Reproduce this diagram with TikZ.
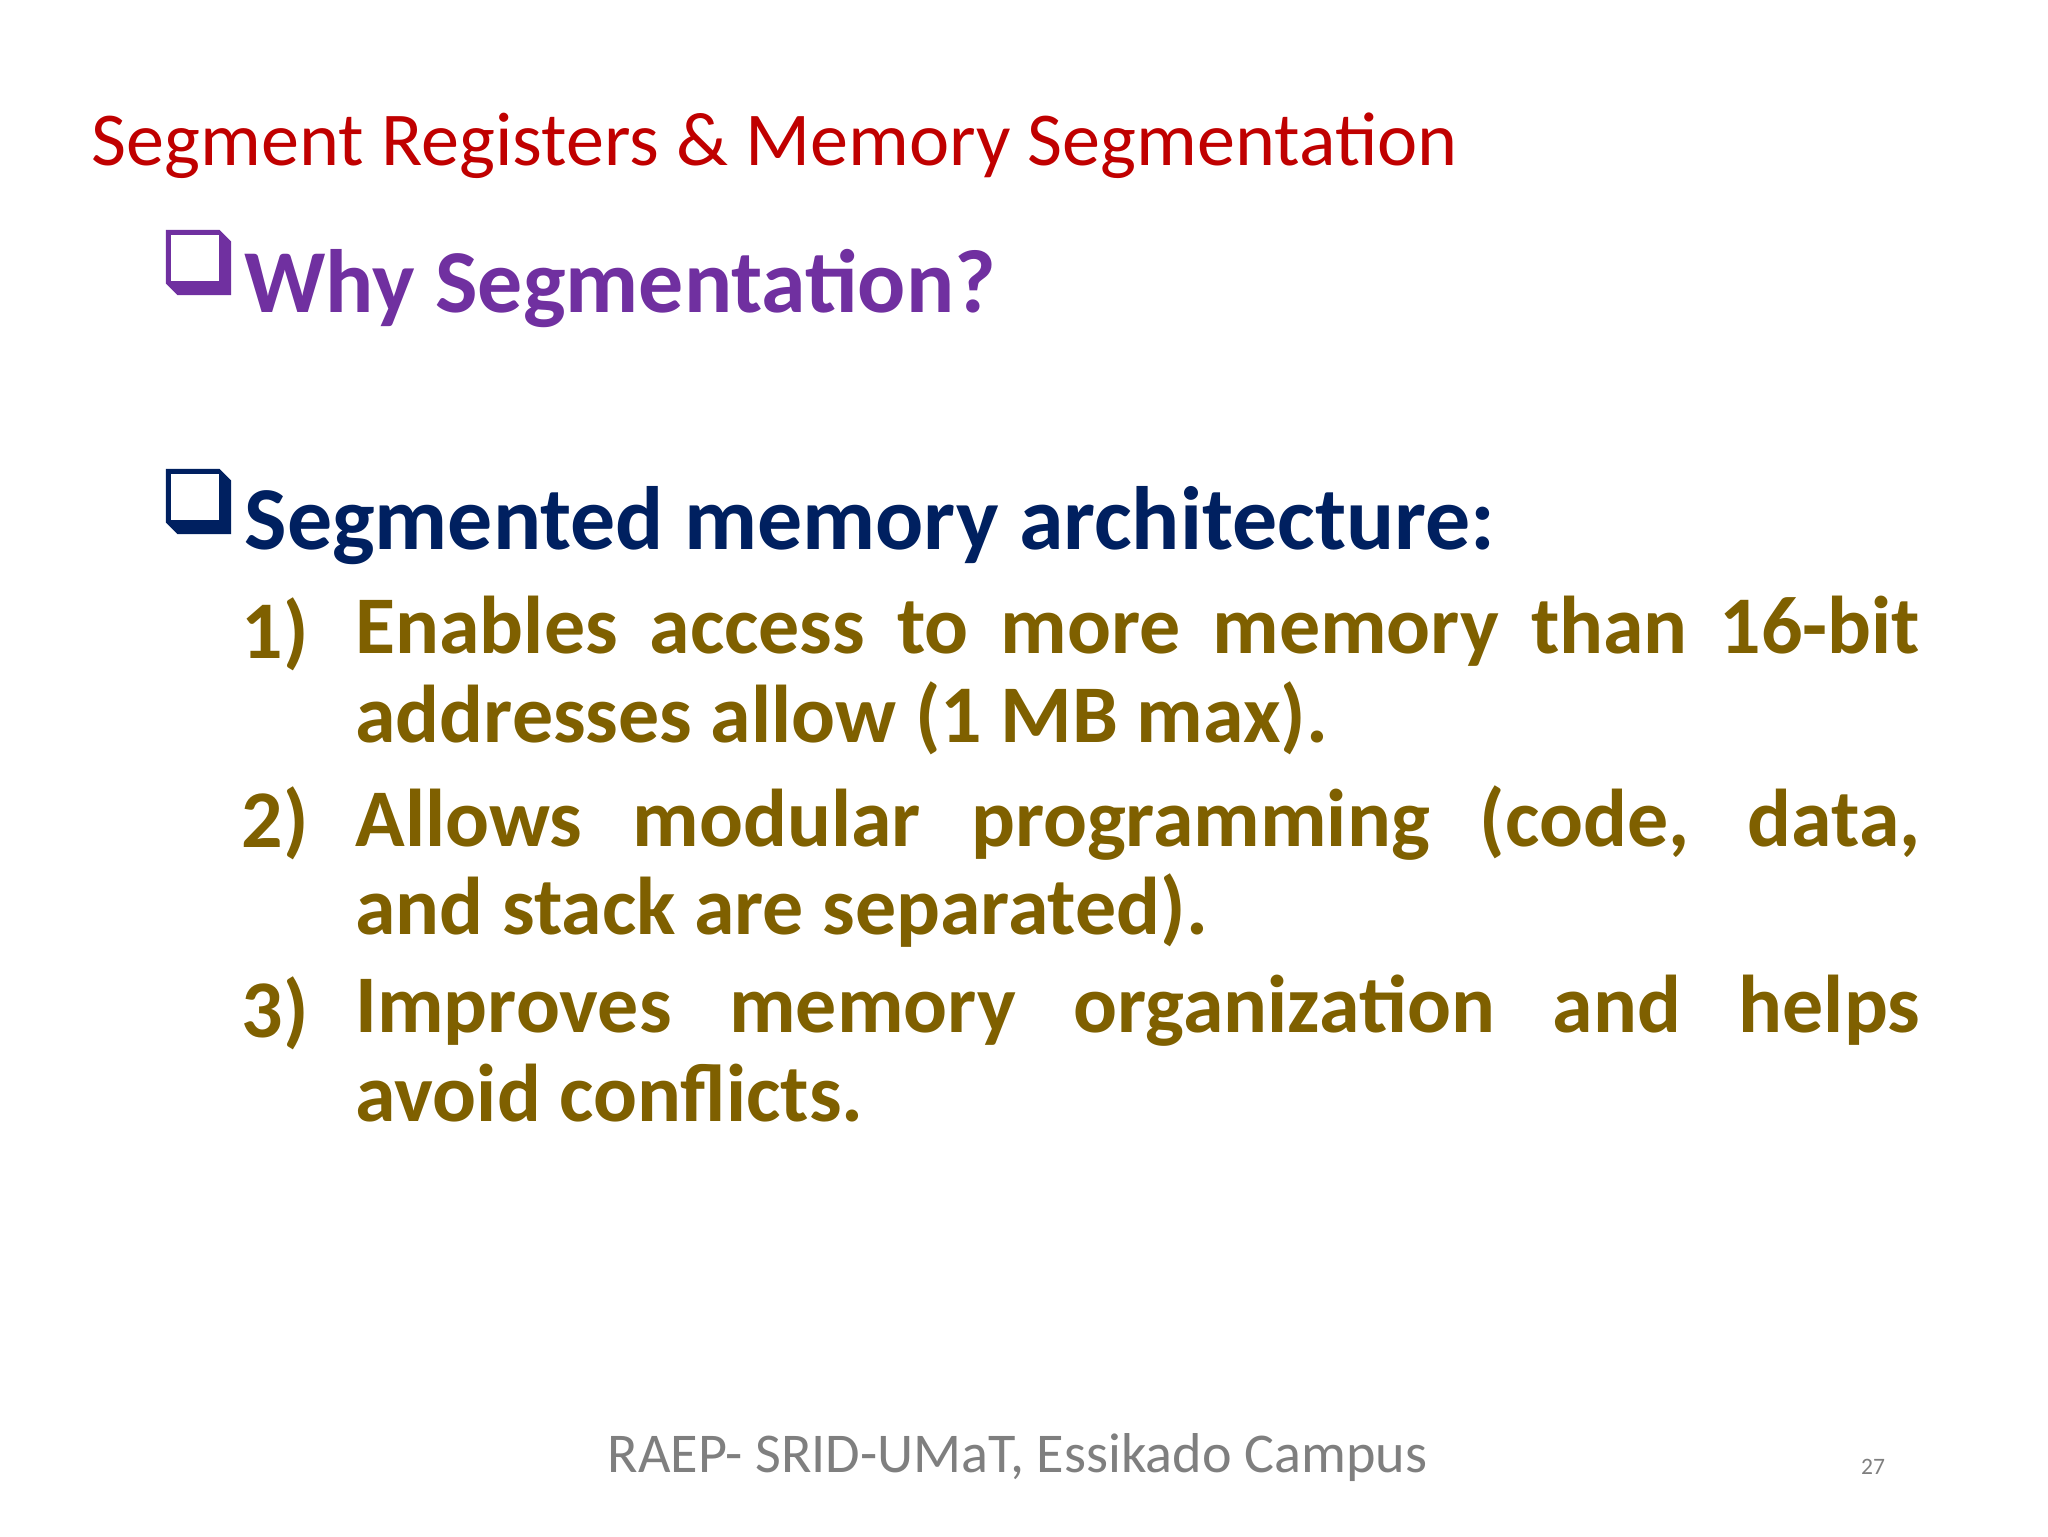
\documentclass[tikz,border=0pt]{standalone}
\usepackage{fontspec}
\setmainfont{Carlito}
\definecolor{ttl}{HTML}{C00000}
\definecolor{why}{HTML}{7030A0}
\definecolor{seg}{HTML}{002060}
\definecolor{itm}{HTML}{7F6000}
\definecolor{foot}{HTML}{7F7F7F}
\begin{document}
\begin{tikzpicture}[x=1pt,y=-1pt,
  itemtext/.style={anchor=north west,inner sep=0pt,text width=1198pt,align=justify,font=\fontsize{62.7}{68}\selectfont\bfseries,text=itm},
  num/.style={anchor=base west,inner sep=0pt,font=\fontsize{62.7}{68}\selectfont\bfseries,text=itm},
  head/.style={anchor=base west,inner sep=0pt,font=\fontsize{68.8}{74}\selectfont\bfseries}]
\fill[white] (0,0) rectangle (1568,1176);
\useasboundingbox (0,0) rectangle (1568,1176);
\node[anchor=base west,inner sep=0pt,text=ttl,font=\fontsize{58.3}{60}\selectfont] (title) at (70,127) {Segment Registers \& Memory Segmentation};
% bullet 1
\fill[why] (127,176) -- (168,176) -- (177,185) -- (177,226) -- (136,226) -- (127,217) -- cycle;
\fill[white] (131,180) rectangle (168,215);
\node[head,text=why] (why) at (187,239) {Why Segmentation?};
% bullet 2
\fill[seg] (127,359) -- (168,359) -- (177,368) -- (177,409) -- (136,409) -- (127,400) -- cycle;
\fill[white] (131,363) rectangle (168,398);
\node[head,text=seg] (segh) at (187,421) {Segmented memory architecture:};
\node[num] (n1) at (185,504) {1)};
\node[itemtext] (i1) at (272,456) {Enables access to more memory than 16-bit addresses allow (1 MB max).};
\node[num] (n2) at (185,649) {2)};
\node[itemtext] (i2) at (272,601) {Allows modular programming (code, data,\linebreak and stack are separated).};
\node[num] (n3) at (185,794) {3)};
\node[itemtext] (i3) at (272,746) {Improves memory organization and helps avoid conflicts.};
\node[anchor=base,inner sep=0pt,text=foot,font=\fontsize{43}{46}\selectfont] (foot) at (779,1127) {RAEP- SRID-UMaT, Essikado Campus};
\node[anchor=base,inner sep=0pt,text=foot,font=\fontsize{18}{20}\selectfont] (pg) at (1434,1129) {27};
\end{tikzpicture}
\end{document}
